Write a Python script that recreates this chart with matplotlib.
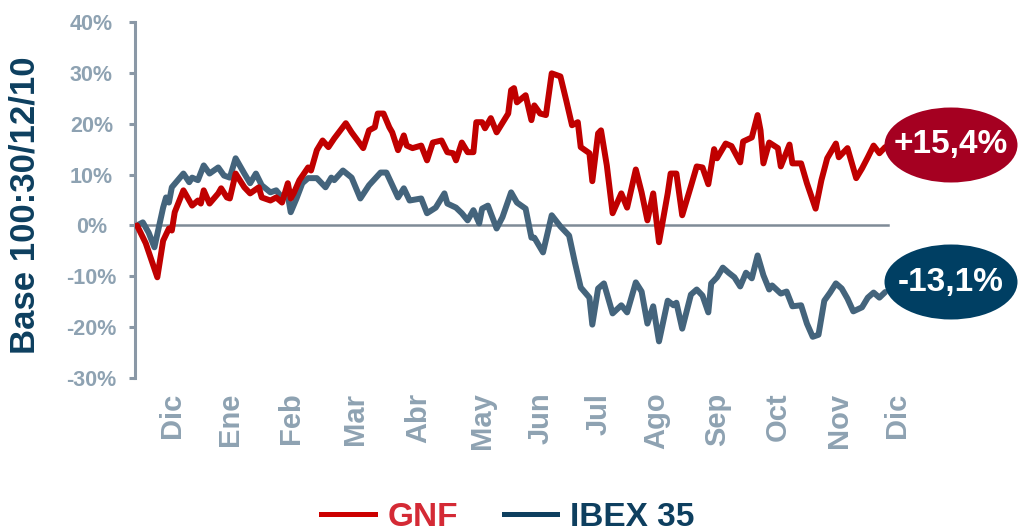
import numpy as np
import matplotlib.pyplot as plt
from matplotlib.patches import Ellipse
from matplotlib.lines import Line2D

plt.rcParams['font.family'] = ['Liberation Sans', 'DejaVu Sans']

# sesiones desde el 30/12/10 y variacion en % (base 100)
gnf_x = [0, 3, 7, 9, 11, 12, 13, 15, 16, 17, 19, 21, 22, 23, 25, 28, 29, 31, 32, 34,
         37, 39, 42, 43, 46, 48, 50, 52, 53, 54, 56, 59, 60, 62, 64, 66, 68, 72, 74, 78,
         80, 82, 83, 85, 87, 88, 90, 92, 93, 95, 98, 100, 102, 105, 107, 109, 110, 112, 114, 116,
         117, 119, 120, 122, 124, 128, 129, 130, 131, 134, 136, 137, 139, 141, 143, 146, 148, 150, 152, 153,
         156, 157, 159, 160, 162, 164, 167, 169, 172, 174, 176, 178, 180, 183, 184, 186, 188, 191, 193, 195,
         197, 199, 200, 203, 205, 208, 209, 212, 214, 215, 216, 218, 221, 222, 225, 226, 229, 231, 234, 236,
         238, 241, 242, 245, 248, 250, 252, 254, 256, 258]
gnf = [0, -3.5, -10.2, -3.0, -0.6, -1.0, 2.6, 5.5, 6.9, 5.9, 3.9, 4.9, 4.3, 6.9, 4.3, 6.3, 7.3, 5.5, 5.3, 10.2,
       7.5, 6.3, 7.5, 5.5, 4.9, 5.5, 4.5, 8.3, 5.3, 6.3, 8.9, 11.4, 10.8, 14.8, 16.7, 15.4, 17.1, 20.1, 18.3, 15.2,
       18.7, 19.3, 22.0, 22.0, 19.3, 18.3, 14.8, 17.7, 15.7, 15.2, 15.7, 12.8, 16.3, 16.7, 14.4, 14.2, 12.8, 16.3, 14.4, 14.4,
       20.3, 20.3, 19.1, 21.1, 18.3, 22.0, 26.6, 27.0, 24.2, 25.6, 20.7, 23.6, 22.0, 21.7, 29.9, 29.3, 24.6, 19.7, 20.3, 15.4,
       14.2, 8.7, 18.1, 18.7, 11.8, 2.4, 6.3, 3.5, 11.0, 6.5, 1.0, 6.3, -3.3, 6.3, 10.2, 10.2, 2.0, 7.7, 11.6, 11.4,
       8.1, 15.0, 13.2, 16.1, 15.6, 12.4, 16.5, 17.3, 21.7, 18.7, 12.2, 16.3, 15.2, 11.6, 15.9, 12.2, 12.2, 8.3, 3.3, 8.9,
       13.2, 16.1, 13.4, 15.2, 9.3, 11.2, 13.4, 15.7, 14.2, 15.4]

ibex_x = [0, 2, 4, 6, 9, 10, 11, 12, 16, 18, 19, 21, 23, 25, 28, 30, 32, 34, 37, 39,
          41, 43, 46, 48, 50, 52, 53, 55, 57, 59, 62, 65, 67, 68, 71, 74, 77, 80, 84, 86,
          90, 92, 94, 98, 100, 103, 106, 107, 110, 112, 114, 116, 118, 119, 121, 124, 126, 129, 131, 134,
          136, 137, 140, 143, 146, 149, 151, 153, 156, 157, 159, 161, 164, 167, 169, 172, 174, 176, 178, 180,
          183, 185, 186, 188, 191, 193, 195, 197, 198, 200, 202, 204, 206, 208, 210, 212, 214, 216, 218, 219,
          222, 224, 226, 229, 231, 233, 235, 237, 239, 241, 243, 245, 247, 250, 252, 254, 256, 258]
ibex = [0.0, 0.6, -1.4, -4.3, 3.5, 5.5, 4.5, 7.5, 10.2, 8.5, 9.4, 8.9, 11.8, 10.2, 11.4, 9.8, 9.4, 13.2, 10.2, 8.3,
        10.2, 7.9, 6.5, 6.9, 5.5, 5.9, 2.6, 5.3, 8.3, 9.3, 9.3, 7.5, 9.4, 8.9, 10.8, 9.4, 5.3, 7.9, 10.4, 10.4,
        5.5, 7.3, 4.9, 5.3, 2.4, 3.5, 6.3, 4.3, 3.5, 2.4, 1.0, 3.0, 0.4, 3.3, 3.9, -0.6, 1.6, 6.5, 4.5, 3.3,
        -2.4, -2.4, -5.3, 2.0, -0.2, -2.0, -7.3, -12.2, -14.2, -19.5, -12.4, -11.4, -17.3, -15.7, -17.1, -11.2, -13.0, -19.3, -15.9, -22.8,
        -14.8, -15.7, -15.2, -20.3, -13.6, -12.6, -13.8, -17.1, -11.4, -10.2, -8.3, -9.3, -10.2, -12.0, -9.3, -10.4, -5.9, -9.8, -12.6, -11.8,
        -13.4, -13.0, -15.9, -15.7, -19.3, -21.9, -21.5, -14.8, -13.2, -11.4, -12.4, -14.4, -16.9, -16.1, -14.2, -13.2, -14.2, -13.1]

meses = ['Dic', 'Ene', 'Feb', 'Mar', 'Abr', 'May', 'Jun', 'Jul', 'Ago', 'Sep', 'Oct', 'Nov', 'Dic']
meses_x = [12, 32, 53, 75, 97, 119, 139, 159, 179, 200, 221, 242, 262]
y_ticks = [-30, -20, -10, 0, 10, 20, 30, 40]
y_labels = ['-30%', '-20%', '-10%', '0%', '10%', '20%', '30%', '40%']

c_gnf = '#c00000'
c_ibex = '#44647c'
c_eje = '#8a98a6'
c_txt = '#8ea2b2'

fig = plt.figure(figsize=(10.21, 5.31), dpi=100)
ax = fig.add_axes([135 / 1021, 1 - 378 / 531, 770.5 / 1021, 356 / 531])

xlim = (-0.7, 265)
ax.set_xlim(xlim)
ax.set_ylim(-30, 40)

fin = (max(gnf_x) + 1 - xlim[0]) / (xlim[1] - xlim[0])
ax.axhline(0, xmin=0, xmax=fin, color='#7f8b97', lw=1.8, zorder=1)

ax.plot(ibex_x, ibex, color=c_ibex, lw=4.3, solid_joinstyle='round', solid_capstyle='round', zorder=2)
ax.plot(gnf_x, gnf, color=c_gnf, lw=4.3, solid_joinstyle='round', solid_capstyle='round', zorder=3)

for s in ['top', 'right', 'bottom']:
    ax.spines[s].set_visible(False)
ax.spines['left'].set_color(c_eje)
ax.spines['left'].set_linewidth(2.2)

ax.set_yticks(y_ticks)
ax.set_yticklabels(y_labels)
ax.tick_params(axis='y', direction='out', length=4.3, width=2.2, color=c_eje,
               labelcolor=c_txt, labelsize=15.5, pad=27)
for t in ax.get_yticklabels():
    t.set_fontweight('bold')
    t.set_ha('center')

ax.set_xticks(meses_x)
ax.set_xticklabels(meses, rotation=90)
ax.tick_params(axis='x', length=0, labelcolor=c_txt, labelsize=21, pad=10.5)
for t in ax.get_xticklabels():
    t.set_fontweight('bold')

fig.text(25 / 1021, 1 - 205 / 531, 'Base 100:30/12/10', rotation=90, fontsize=25,
         fontweight='bold', color='#0d3f5f', ha='center', va='center')

# etiquetas de variacion final
for val, col, yc in [(gnf[-1], '#a50021', 145), (ibex[-1], '#003f63', 282)]:
    cx, cy = 951 / 1021, 1 - yc / 531
    fig.add_artist(Ellipse((cx, cy), 133 / 1021, 75 / 531, transform=fig.transFigure,
                           facecolor=col, edgecolor='none'))
    txt = '{:+.1f}%'.format(val).replace('.', ',')
    fig.text(cx, cy, txt, fontsize=24, fontweight='bold', color='white',
             ha='center', va='center')

handles = [Line2D([], [], color='#cc0000', lw=3.6), Line2D([], [], color='#0e3f5f', lw=3.6)]
leg = fig.legend(handles, ['GNF', 'IBEX 35'], loc='center', bbox_to_anchor=(508 / 1021, 14 / 531),
                 ncol=2, frameon=False, prop=dict(weight='bold', size=24),
                 handlelength=1.6, handletextpad=0.4, columnspacing=1.35)
leg.get_texts()[0].set_color('#d42a35')
leg.get_texts()[1].set_color('#0e3f5f')

fig.savefig('out.png', dpi=100)
